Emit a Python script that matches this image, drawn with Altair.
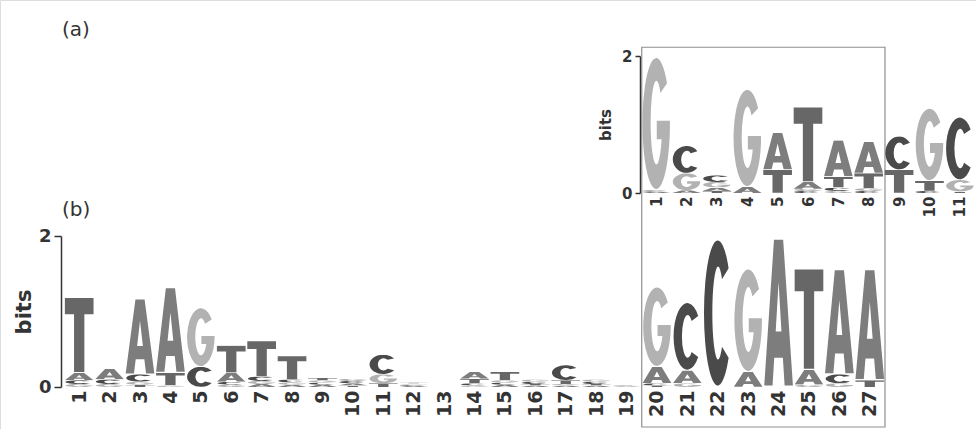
import base64

import altair as alt
import pandas as pd

# ---------------------------------------------------------------------------
# Sequence logo data: information content (bits) of each base per position
# ---------------------------------------------------------------------------

# Panel (b): 27-position motif
b_positions = list(range(1, 28))
b_A = [0.10, 0.14, 1.00, 1.13, 0.00, 0.12, 0.04, 0.03, 0.03, 0.03, 0.00, 0.015, 0.00, 0.09,
       0.03, 0.02, 0.02, 0.02, 0.01, 0.22, 0.17, 0.00, 0.20, 1.97, 0.20, 1.39, 1.47]
b_C = [0.05, 0.06, 0.10, 0.00, 0.27, 0.04, 0.06, 0.04, 0.03, 0.03, 0.26, 0.015, 0.00, 0.03,
       0.03, 0.03, 0.20, 0.03, 0.01, 0.03, 0.90, 1.96, 0.00, 0.00, 0.00, 0.12, 0.00]
b_G = [0.04, 0.04, 0.04, 0.02, 0.78, 0.03, 0.04, 0.03, 0.03, 0.03, 0.12, 0.015, 0.00, 0.02,
       0.03, 0.03, 0.02, 0.03, 0.00, 1.06, 0.05, 0.00, 1.37, 0.00, 0.03, 0.05, 0.00]
b_T = [1.00, 0.00, 0.03, 0.17, 0.00, 0.36, 0.47, 0.31, 0.03, 0.02, 0.05, 0.015, 0.00, 0.06,
       0.11, 0.02, 0.05, 0.02, 0.01, 0.02, 0.00, 0.00, 0.00, 0.00, 1.34, 0.00, 0.09]

# Panel (a): 11-position motif
a_positions = list(range(1, 12))
a_A = [0.02, 0.04, 0.05, 0.09, 0.54, 0.10, 0.53, 0.46, 0.00, 0.00, 0.00]
a_C = [0.02, 0.40, 0.10, 0.00, 0.00, 0.03, 0.05, 0.03, 0.49, 0.03, 0.92]
a_G = [1.95, 0.25, 0.08, 1.43, 0.00, 0.03, 0.03, 0.04, 0.00, 1.06, 0.17]
a_T = [0.00, 0.00, 0.03, 0.00, 0.34, 1.10, 0.16, 0.22, 0.34, 0.15, 0.02]

# Positions of panel (b) that the panel (a) motif lines up with (boxed)
box_first, box_last = 20, 27

# ---------------------------------------------------------------------------
# Letter glyphs (drawn in a 100x100 box, stretched to each stack cell)
# ---------------------------------------------------------------------------
BASE_COLORS = {"A": "#7d7d7d", "C": "#4a4a4a", "G": "#b2b2b2", "T": "#676767"}
GLYPH_PATHS = {
    "A": "M0,100 L34,0 L66,0 L100,100 L71,100 L65,81 L35,81 L29,100 Z M40,63 L60,63 L50,29 Z",
    "C": "M87.8,19.2 A48,50 0 1 0 87.8,80.8 L64.8,73.3 A20,32 0 1 1 64.8,26.7 Z",
    "G": "M87.8,19.2 A48,50 0 1 0 98,48 L52,48 L52,62 L69,62 A20,32 0 1 1 64.8,26.7 Z",
    "T": "M0,0 L100,0 L100,22 L68,22 L68,100 L32,100 L32,22 L0,22 Z",
}


def glyph_uri(letter):
    svg = (
        '<svg xmlns="http://www.w3.org/2000/svg" width="106" height="102" '
        'viewBox="-3 -1 106 102" preserveAspectRatio="none">'
        f'<path d="{GLYPH_PATHS[letter]}" fill="{BASE_COLORS[letter]}" fill-rule="evenodd"/>'
        "</svg>"
    )
    return "data:image/svg+xml;base64," + base64.b64encode(svg.encode()).decode()


URIS = {k: glyph_uri(k) for k in "ACGT"}


def stack_letters(positions, heights):
    """Stack letters per position, smallest at the bottom, tallest on top."""
    rows = []
    for i, pos in enumerate(positions):
        column = sorted((heights[b][i], b) for b in "ACGT" if heights[b][i] > 0)
        base = 0.0
        for h, b in column:
            rows.append({"pos": pos, "base": b, "y0": base, "y1": base + h, "url": URIS[b]})
            base += h
    return pd.DataFrame(rows)


df_b = stack_letters(b_positions, {"A": b_A, "C": b_C, "G": b_G, "T": b_T})
df_a = stack_letters(a_positions, {"A": a_A, "C": a_C, "G": a_G, "T": a_T})

W, H = 976, 429
AXIS_COLOR = "#333333"
FONT = "DejaVu Sans"


# Scales: each panel gets its own region of the canvas
def b_xscale():
    return alt.Scale(domain=[0.5, 27.5], range=[64, 885], nice=False, zero=False)


def b_yscale():
    return alt.Scale(domain=[0, 2], range=[387, 236], nice=False, zero=False)


a_xscale = alt.Scale(domain=[0.5, 11.5], range=[641, 975], nice=False, zero=False)
a_yscale = alt.Scale(domain=[0, 2], range=[193, 56], nice=False, zero=False)


def x_axis(values, offset, size):
    return alt.Axis(
        orient="bottom", offset=offset, values=values, format="d",
        domain=False, ticks=False, grid=False, labelAngle=270,
        labelFont=FONT, labelFontWeight="bold", labelFontSize=size,
        labelColor=AXIS_COLOR, labelPadding=3, labelOverlap=False, labelFlush=False,
        labelBound=False,
    )


def y_axis(offset, label_size, title_size, tick_size, title_pad):
    return alt.Axis(
        orient="left", offset=offset, values=[0, 1, 2], format="d", grid=False,
        domainColor=AXIS_COLOR, domainWidth=1.5, tickColor=AXIS_COLOR, tickWidth=1.5,
        tickSize=tick_size, labelFont=FONT, labelFontWeight="bold",
        labelFontSize=label_size, labelColor=AXIS_COLOR, labelPadding=3,
        title="bits", titleFont=FONT, titleFontWeight="bold", titleFontSize=title_size,
        titleColor=AXIS_COLOR, titlePadding=title_pad,
    )


# Panel (b) logo
b_logo = alt.Chart(df_b).transform_calculate(
    x0="datum.pos - 0.5", x1="datum.pos + 0.5"
).mark_image(aspect=False).encode(
    x=alt.X("x0:Q", scale=b_xscale(), axis=x_axis(b_positions, -(H - 387), 19), title=None),
    x2="x1:Q",
    y=alt.Y("y0:Q", scale=b_yscale(), axis=y_axis(-61, 18, 21, 7, 4)),
    y2="y1:Q",
    url="url:N",
)


def panel_label(text, y):
    return alt.Chart(alt.Data(values=[{"label": text}])).mark_text(
        align="left", baseline="middle", font=FONT, fontSize=20, color=AXIS_COLOR
    ).encode(x=alt.value(62), y=alt.value(y), text="label:N")


lower = alt.layer(b_logo, panel_label("(a)", 30), panel_label("(b)", 210))

# Box linking panel (a) with positions 20-27 of panel (b)
box = alt.Chart(
    pd.DataFrame({"first": [box_first], "last": [box_last], "lo": [-0.53], "hi": [4.5]})
).transform_calculate(
    bx0="datum.first - 0.5", bx1="datum.last + 0.5"
).mark_rect(filled=False, stroke="#8f8f8f", strokeWidth=1.2).encode(
    x=alt.X("bx0:Q", scale=b_xscale(), axis=None),
    x2="bx1:Q",
    y=alt.Y("lo:Q", scale=b_yscale(), axis=None),
    y2="hi:Q",
)

# Panel (a) logo
a_logo = alt.Chart(df_a).transform_calculate(
    x0="datum.pos - 0.5", x1="datum.pos + 0.5"
).mark_image(aspect=False).encode(
    x=alt.X("x0:Q", scale=a_xscale, axis=x_axis(a_positions, -(H - 193), 15), title=None),
    x2="x1:Q",
    y=alt.Y("y0:Q", scale=a_yscale, axis=y_axis(-640, 15, 15, 5, 8)),
    y2="y1:Q",
    url="url:N",
)

chart = (
    alt.layer(lower, box, a_logo)
    .resolve_scale(x="independent", y="independent")
    .properties(width=W, height=H, padding=0, autosize=alt.AutoSizeParams(type="none"))
    .configure_view(strokeWidth=0)
    .configure(background="white")
)

chart.save("out.html", embed_options={"renderer": "svg", "actions": False})
